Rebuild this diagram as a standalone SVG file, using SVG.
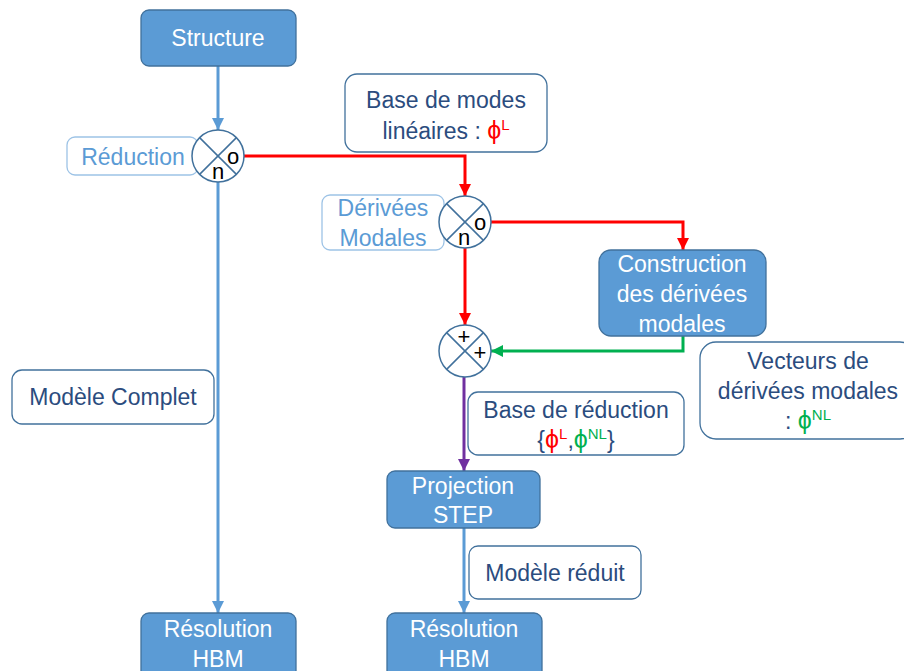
<svg xmlns="http://www.w3.org/2000/svg" width="904" height="671" viewBox="0 0 904 671">
<style>
text{font-family:"Liberation Sans",Arial,sans-serif;font-size:23px;text-anchor:middle}
.fill rect{fill:#5B9BD5;stroke:#41719C;stroke-width:1.3}
.fill text{fill:#FFFFFF}
.out rect{fill:#FFFFFF;stroke:#41719C;stroke-width:1.3}
.out text{fill:#2B4C7E}
.lite rect{fill:#FFFFFF;stroke:#9DC3E6;stroke-width:1.3}
.lite text{fill:#5B9BD5}
.sum circle{fill:#FFFFFF;stroke:#41719C;stroke-width:1.5}
.sum line{stroke:#41719C;stroke-width:1.5}
.sum text{fill:#000000;font-size:22px}
.conn path{fill:none;stroke-width:3}
.red{fill:#FF0000}
.grn{fill:#00B050}
.phi{font-size:25px}
.sup{font-size:15px}
</style>
<defs>
<marker id="aB" markerUnits="userSpaceOnUse" markerWidth="14" markerHeight="14" refX="12" refY="6" orient="auto"><path d="M0,0 L12,6 L0,12 z" fill="#5B9BD5"/></marker>
<marker id="aR" markerUnits="userSpaceOnUse" markerWidth="14" markerHeight="14" refX="12" refY="6" orient="auto"><path d="M0,0 L12,6 L0,12 z" fill="#FF0000"/></marker>
<marker id="aG" markerUnits="userSpaceOnUse" markerWidth="14" markerHeight="14" refX="12" refY="6" orient="auto"><path d="M0,0 L12,6 L0,12 z" fill="#00B050"/></marker>
<marker id="aP" markerUnits="userSpaceOnUse" markerWidth="14" markerHeight="14" refX="12" refY="6" orient="auto"><path d="M0,0 L12,6 L0,12 z" fill="#7030A0"/></marker>
</defs>
<rect width="904" height="671" fill="#FFFFFF"/>

<g class="conn" id="connectors">
<path d="M218 66 V130" stroke="#5B9BD5" marker-end="url(#aB)"/>
<path d="M218 182 V613" stroke="#5B9BD5" marker-end="url(#aB)"/>
<path d="M244 156 H465 V196" stroke="#FF0000" marker-end="url(#aR)"/>
<path d="M465 248 V325" stroke="#FF0000" marker-end="url(#aR)"/>
<path d="M491 222 H683 V250" stroke="#FF0000" marker-end="url(#aR)"/>
<path d="M683 336 V351 H491" stroke="#00B050" marker-end="url(#aG)"/>
<path d="M464 377 V471" stroke="#7030A0" marker-end="url(#aP)"/>
<path d="M464 528 V613" stroke="#5B9BD5" marker-end="url(#aB)"/>
</g>

<g id="structure" class="fill"><rect x="141" y="10" width="155" height="56" rx="8"/><text x="218" y="46">Structure</text></g>

<g id="base-modes" class="out"><rect x="345" y="74" width="202" height="78" rx="12"/>
<text x="446" y="108">Base de modes</text>
<text x="446" y="139">linéaires : <tspan class="red phi">ϕ</tspan><tspan class="red sup" dy="-9">L</tspan></text></g>

<g id="reduction" class="lite"><rect x="67" y="137" width="131" height="38" rx="8"/><text x="133" y="165">Réduction</text></g>

<g id="sum1" class="sum"><circle cx="218" cy="156" r="26"/>
<line x1="199.6" y1="137.6" x2="236.4" y2="174.4"/><line x1="236.4" y1="137.6" x2="199.6" y2="174.4"/>
<text x="233" y="164">o</text><text x="218" y="179">n</text></g>

<g id="derivees" class="lite"><rect x="322" y="195" width="122" height="55" rx="8"/><text x="383" y="216">Dérivées</text><text x="383" y="246">Modales</text></g>

<g id="sum2" class="sum"><circle cx="465" cy="222" r="26"/>
<line x1="446.6" y1="203.6" x2="483.4" y2="240.4"/><line x1="483.4" y1="203.6" x2="446.6" y2="240.4"/>
<text x="480" y="230">o</text><text x="464" y="245">n</text></g>

<g id="construction" class="fill"><rect x="599" y="250" width="167" height="86" rx="12"/>
<text x="682" y="272">Construction</text><text x="682" y="302">des dérivées</text><text x="682" y="332">modales</text></g>

<g id="sum3" class="sum"><circle cx="465" cy="351" r="26"/>
<line x1="446.6" y1="332.6" x2="483.4" y2="369.4"/><line x1="483.4" y1="332.6" x2="446.6" y2="369.4"/>
<text x="464" y="344">+</text><text x="480" y="360">+</text></g>

<g id="vecteurs" class="out"><rect x="700" y="342" width="216" height="97" rx="16"/>
<text x="808" y="369">Vecteurs de</text><text x="808" y="399">dérivées modales</text>
<text x="808" y="429">: <tspan class="grn phi">ϕ</tspan><tspan class="grn sup" dy="-9">NL</tspan></text></g>

<g id="modele-complet" class="out"><rect x="12" y="370" width="202" height="54" rx="10"/><text x="113" y="405">Modèle Complet</text></g>

<g id="base-reduction" class="out"><rect x="468" y="392" width="216" height="63" rx="10"/>
<text x="576" y="418">Base de réduction</text>
<text x="576" y="448">{<tspan class="red phi">ϕ</tspan><tspan class="red sup" dy="-9">L</tspan><tspan dy="9">,</tspan><tspan class="grn phi">ϕ</tspan><tspan class="grn sup" dy="-9">NL</tspan><tspan dy="9">}</tspan></text></g>

<g id="projection" class="fill"><rect x="387" y="471" width="153" height="57" rx="8"/><text x="463" y="494">Projection</text><text x="463" y="523">STEP</text></g>

<g id="modele-reduit" class="out"><rect x="469" y="546" width="172" height="53" rx="9"/><text x="555" y="581">Modèle réduit</text></g>

<g id="resolution1" class="fill"><rect x="141" y="613" width="155" height="66" rx="8"/><text x="218" y="637">Résolution</text><text x="218" y="667">HBM</text></g>

<g id="resolution2" class="fill"><rect x="387" y="613" width="155" height="66" rx="8"/><text x="464" y="637">Résolution</text><text x="464" y="667">HBM</text></g>
</svg>
